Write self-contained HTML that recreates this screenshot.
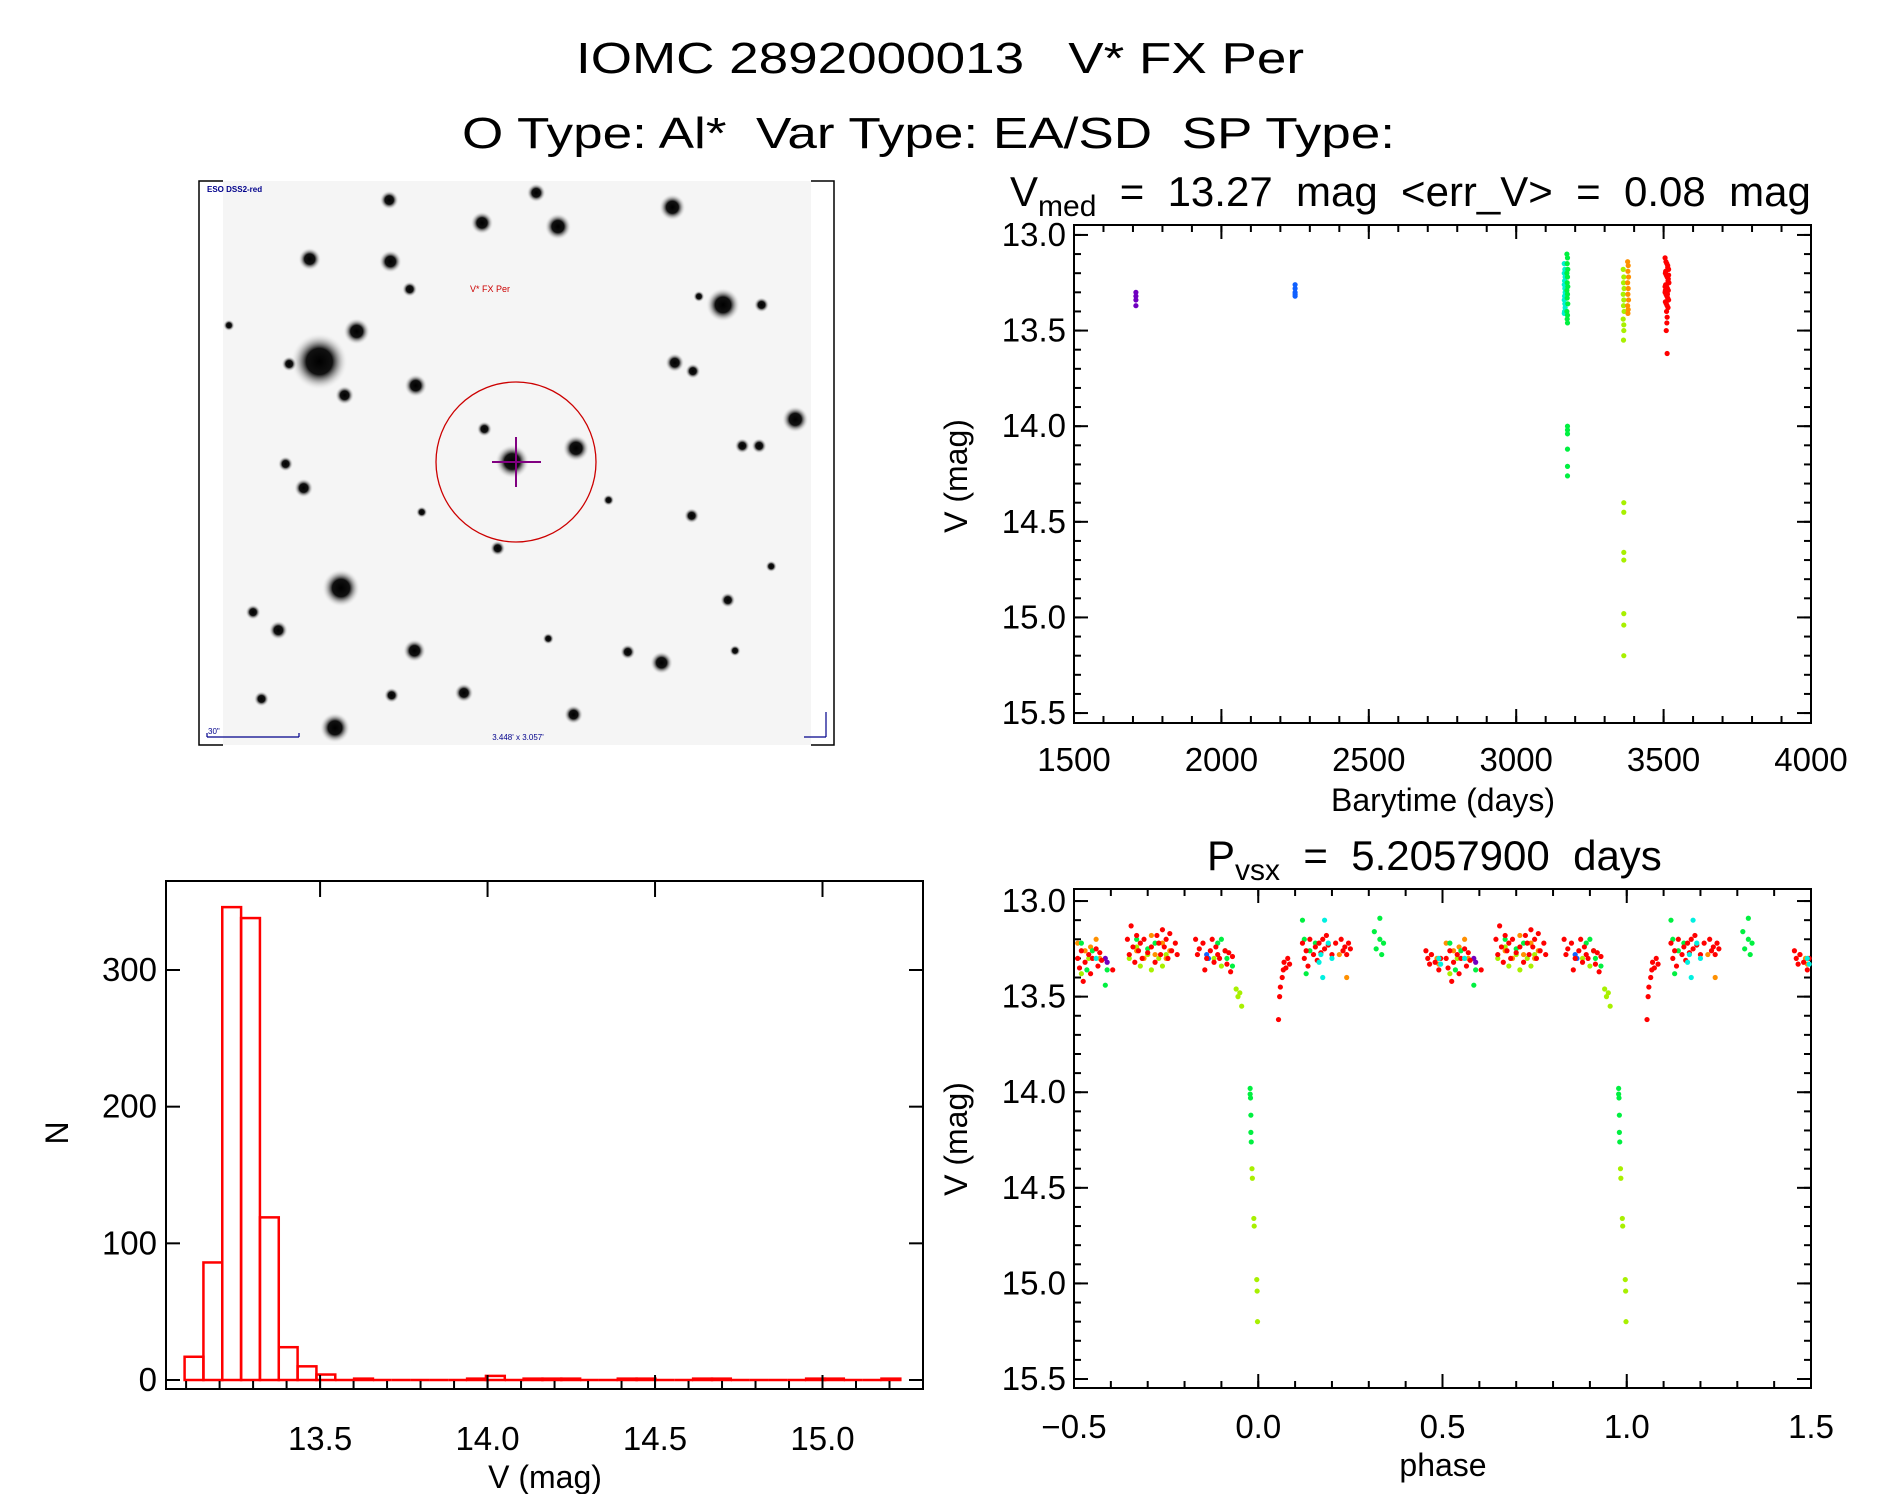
<!DOCTYPE html>
<html><head><meta charset="utf-8">
<style>
html,body{margin:0;padding:0;background:#fff;}
svg{display:block;font-family:"Liberation Sans",sans-serif;}
svg text{white-space:pre;}
</style></head>
<body>
<svg id="fig" width="1889" height="1494" viewBox="0 0 1889 1494" xmlns="http://www.w3.org/2000/svg" xml:space="preserve">
<defs>
<radialGradient id="starG"><stop offset="0" stop-color="#000"/><stop offset="0.45" stop-color="#111"/><stop offset="1" stop-color="#fff" stop-opacity="0"/></radialGradient>
</defs>
<text x="576" y="73" font-size="44" textLength="728" lengthAdjust="spacingAndGlyphs">IOMC 2892000013   V* FX Per</text>
<text x="462" y="148" font-size="44" textLength="933" lengthAdjust="spacingAndGlyphs">O Type: Al*  Var Type: EA/SD  SP Type:</text>
<text x="1010" y="206" font-size="42">V<tspan font-size="30" dy="10">med</tspan><tspan dy="-10">  =  13.27  mag  &lt;err_V&gt;  =  0.08  mag</tspan></text>
<text x="1207" y="870" font-size="42">P<tspan font-size="30" dy="10">vsx</tspan><tspan dy="-10">  =  5.2057900  days</tspan></text>
<g id="img"></g>
<g id="plots"></g>
</svg>
<script>
// ---------- histogram data ----------
const histStart = 13.0955;
const histWidth = 0.05623;
const histCounts = [17,86,346,338,119,24,10,4,0,1,0,0,0,0,0,1,3,0,1,1,1,0,0,1,1,0,0,1,1,0,0,0,0,1,1,0,0,1];
const histXTicks = [13.5,14.0,14.5,15.0];
const histYTicks = [0,100,200,300];

// ---------- time series data ----------
const tPurpleT = [1710,1710,1710,1710];
const tPurpleV = [13.30,13.32,13.34,13.37];
const tBlueT = [2250,2250,2250,2250,2250];
const tBlueV = [13.26,13.28,13.30,13.31,13.32];
const tCyanT = [3163,3165,3163,3166,3164,3163,3165,3166,3164,3163,3165,3166,3164,3163];
const tCyanV = [13.15,13.18,13.20,13.22,13.24,13.26,13.28,13.30,13.32,13.34,13.36,13.38,13.40,13.41];
const tGreenT = [3172,3174,3173,3175,3172,3174,3173,3175,3172,3174,3173,3175,3172,3174,3173,3174,3174,3174,3174,3174,3174,3174];
const tGreenV = [13.10,13.12,13.15,13.18,13.20,13.22,13.25,13.27,13.29,13.31,13.33,13.36,13.40,13.42,13.44,13.46,14.00,14.02,14.04,14.12,14.21,14.26];
const tYgT = [3363,3365,3364,3366,3363,3365,3364,3366,3363,3365,3364,3365,3365,3365,3365,3365,3365,3365,3365];
const tYgV = [13.18,13.22,13.25,13.28,13.31,13.34,13.37,13.40,13.44,13.47,13.55,13.50,14.40,14.45,14.66,14.70,14.98,15.04,15.20];
const tOrangeT = [3378,3380,3379,3381,3378,3380,3379,3381,3378,3380,3379];
const tOrangeV = [13.14,13.16,13.19,13.22,13.25,13.28,13.31,13.34,13.37,13.39,13.41];
const tRedT = [3505,3508,3511,3514,3517,3506,3509,3512,3515,3518,3507,3510,3513,3516,3505,3508,3511,3514,3517,3506,3509,3512,3515,3510,3512,3511,3509,3512,3514,3507,3516,3505,3513,3508,3517,3506];
const tRedV = [13.12,13.14,13.15,13.17,13.18,13.20,13.21,13.22,13.24,13.25,13.26,13.27,13.28,13.29,13.30,13.31,13.32,13.33,13.34,13.35,13.36,13.37,13.38,13.40,13.43,13.46,13.50,13.62,13.16,13.19,13.23,13.27,13.31,13.35,13.21,13.29];
const timeXTicks = [1500,2000,2500,3000,3500,4000];
const magTicks = [13.0,13.5,14.0,14.5,15.0,15.5];

// ---------- phased data (base phase -0.5..0.5) ----------
const phRed = [[-0.49,13.30],[-0.485,13.35],[-0.48,13.26],[-0.475,13.42],[-0.47,13.32],[-0.46,13.28],[-0.455,13.38],[-0.45,13.30],[-0.44,13.25],[-0.435,13.34],[-0.43,13.27],[-0.425,13.31],[-0.395,13.36],
[-0.355,13.20],[-0.35,13.28],[-0.345,13.13],[-0.34,13.24],[-0.335,13.32],[-0.33,13.18],[-0.325,13.26],[-0.32,13.22],[-0.315,13.30],[-0.31,13.20],[-0.30,13.27],[-0.29,13.24],[-0.28,13.32],[-0.275,13.18],[-0.27,13.22],[-0.265,13.28],[-0.26,13.15],[-0.255,13.24],[-0.25,13.20],[-0.245,13.30],[-0.24,13.17],[-0.235,13.26],[-0.225,13.22],[-0.22,13.28],
[-0.17,13.20],[-0.165,13.28],[-0.16,13.25],[-0.15,13.22],[-0.145,13.36],[-0.14,13.30],[-0.13,13.26],[-0.125,13.20],[-0.12,13.32],[-0.115,13.24],[-0.11,13.28],[-0.105,13.30],[-0.09,13.26],[-0.085,13.33],[-0.08,13.27],[-0.075,13.37],[-0.07,13.29],
[0.055,13.62],[0.058,13.50],[0.06,13.45],[0.065,13.40],[0.068,13.36],[0.07,13.32],[0.075,13.35],[0.08,13.30],[0.085,13.33],
[0.12,13.22],[0.125,13.30],[0.13,13.26],[0.135,13.34],[0.14,13.20],[0.15,13.28],[0.155,13.24],[0.16,13.31],[0.165,13.22],[0.17,13.27],[0.175,13.20],[0.18,13.25],[0.185,13.18],[0.19,13.23],[0.20,13.28],[0.21,13.22],[0.225,13.20],[0.23,13.26],[0.235,13.24],[0.24,13.28],[0.245,13.22],[0.25,13.25],
[0.455,13.26],[0.46,13.30],[0.465,13.33],[0.47,13.28],[0.48,13.32],[0.49,13.36],[0.495,13.30]];
const phOrange = [[-0.49,13.22],[-0.47,13.26],[-0.455,13.24],[-0.44,13.20],[-0.43,13.30],[-0.33,13.26],[-0.31,13.30],[-0.29,13.18],[-0.28,13.28],[-0.26,13.22],[-0.25,13.30],[-0.24,13.26],[0.24,13.40],[0.22,13.28],[0.47,13.28],[0.485,13.30],[0.49,13.33]];
const phYg = [[-0.48,13.38],[-0.46,13.30],[-0.35,13.30],[-0.33,13.24],[-0.32,13.34],[-0.30,13.28],[-0.29,13.36],[-0.27,13.30],[-0.26,13.34],[-0.25,13.28],[-0.12,13.30],[-0.10,13.34],[-0.06,13.46],[-0.055,13.50],[-0.05,13.48],[-0.045,13.55],[-0.017,14.40],[-0.016,14.45],[-0.012,14.66],[-0.011,14.70],[-0.004,14.98],[-0.003,15.04],[-0.002,15.20]];
const phGreen = [[-0.48,13.22],[-0.465,13.36],[-0.45,13.26],[-0.415,13.44],[-0.41,13.36],[-0.33,13.20],[-0.30,13.25],[-0.28,13.22],[-0.11,13.22],[-0.10,13.20],[-0.09,13.26],[-0.085,13.30],[-0.07,13.34],[-0.022,13.98],[-0.022,14.01],[-0.021,14.03],[-0.02,14.12],[-0.02,14.21],[-0.019,14.26],[0.12,13.10],[0.125,13.20],[0.13,13.38],[0.14,13.26],[0.155,13.22],[0.315,13.16],[0.32,13.25],[0.33,13.20],[0.335,13.28],[0.33,13.09],[0.34,13.22]];
const phCyan = [[-0.44,13.30],[0.165,13.32],[0.17,13.28],[0.175,13.40],[0.18,13.10],[0.19,13.22],[0.20,13.30],[0.49,13.30],[0.495,13.33]];
const phBlue = [[-0.14,13.28],[-0.135,13.30]];
const phPurple = [[-0.415,13.30],[-0.41,13.32]];
const phaseXTicks = [-0.5,0.0,0.5,1.0,1.5];

const NS = "http://www.w3.org/2000/svg";
const root = document.getElementById('plots');
function mk(tag, parent){ const e=document.createElementNS(NS,tag); parent.appendChild(e); return e; }
function line(p,x1,y1,x2,y2,w){ const e=mk('line',p); e.setAttribute('x1',x1);e.setAttribute('y1',y1);e.setAttribute('x2',x2);e.setAttribute('y2',y2);e.setAttribute('stroke','#000');e.setAttribute('stroke-width',w||2);
  
  
  return e; }
function txt(p,x,y,s,size,anchor){ const e=mk('text',p); e.setAttribute('x',x);e.setAttribute('y',y);e.setAttribute('font-size',size);e.setAttribute('text-anchor',anchor||'middle'); e.textContent=s; return e; }

function scale(d0,d1,r0,r1){ return v=> r0+(v-d0)*(r1-r0)/(d1-d0); }

function frame(g,L,T,R,B){
  const r=mk('rect',g); r.setAttribute('x',L);r.setAttribute('y',T);r.setAttribute('width',R-L);r.setAttribute('height',B-T);
  r.setAttribute('fill','none');r.setAttribute('stroke','#000');r.setAttribute('stroke-width',2);
  
  
}
function xTicksAll(g,sx,T,B,lo,hi,step,len){ for(let v=lo; v<=hi+1e-9; v+=step){ const x=sx(v); line(g,x,B,x,B-len); line(g,x,T,x,T+len);} }
function yTicksAll(g,sy,L,R,lo,hi,step,len){ for(let v=lo; v<=hi+1e-9; v+=step){ const y=sy(v); line(g,L,y,L+len,y); line(g,R,y,R-len,y);} }

function dot(g,x,y,c,name){ const e=mk('circle',g); e.setAttribute('cx',x);e.setAttribute('cy',y);e.setAttribute('r',2.6);e.setAttribute('fill',c);
  
  
}

// ===== Time plot =====
(function(){
  const g=mk('g',root);
  
  
  const L=1074,R=1811,T=225,B=723;
  const sx=scale(1500,4000,L,R), sy=scale(12.948,15.552,T,B);
  frame(g,L,T,R,B);
  xTicksAll(g,sx,T,B,1500,4000,500,14); xTicksAll(g,sx,T,B,1600,3900,100,7);
  yTicksAll(g,sy,L,R,13.0,15.5,0.5,14); yTicksAll(g,sy,L,R,13.0,15.5,0.1,7);
  timeXTicks.forEach(v=>{ const t=txt(g,sx(v),771,String(v),33);
    
     });
  magTicks.forEach(v=>{ const t=txt(g,1066,sy(v)+11,v.toFixed(1),33,'end');
    
     });
  const xl=txt(g,1443,811,'Barytime (days)',32);
  
  
  const yl=txt(g,0,0,'V (mag)',32); yl.setAttribute('transform','translate(967,476) rotate(-90)');
  
  
  const sets=[[tPurpleT,tPurpleV,'#7000c0'],[tBlueT,tBlueV,'#1060ff'],[tCyanT,tCyanV,'#00f0d0'],[tGreenT,tGreenV,'#00f040'],[tYgT,tYgV,'#a8f000'],[tOrangeT,tOrangeV,'#ff9000'],[tRedT,tRedV,'#ff0000']];
  sets.forEach(s=>s[0].forEach((t,i)=>dot(g,sx(t),sy(s[1][i]),s[2],'time-point')));
})();

// ===== Phase plot =====
(function(){
  const g=mk('g',root);
  
  
  const L=1074,R=1811,T=889,B=1388;
  const sx=scale(-0.5,1.5,L,R), sy=scale(12.937,15.547,T,B);
  frame(g,L,T,R,B);
  xTicksAll(g,sx,T,B,-0.5,1.5,0.5,14); xTicksAll(g,sx,T,B,-0.5,1.5,0.1,7);
  yTicksAll(g,sy,L,R,13.0,15.5,0.5,14); yTicksAll(g,sy,L,R,13.0,15.5,0.1,7);
  phaseXTicks.forEach(v=>{ const t=txt(g,sx(v),1438,(v<0?'\u2212':'')+Math.abs(v).toFixed(1),33);
    
     });
  magTicks.forEach(v=>{ const t=txt(g,1066,sy(v)+11,v.toFixed(1),33,'end');
    
     });
  const xl=txt(g,1443,1476,'phase',32);
  
  
  const yl=txt(g,0,0,'V (mag)',32); yl.setAttribute('transform','translate(967,1139) rotate(-90)');
  
  
  const sets=[[phPurple,'#7000c0'],[phBlue,'#1060ff'],[phYg,'#a8f000'],[phOrange,'#ff9000'],[phGreen,'#00f040'],[phRed,'#ff0000'],[phCyan,'#00f0e0']];
  sets.forEach(s=>s[0].forEach(p=>{ [0,1].forEach(k=>{ const ph=p[0]+k; if(ph>=-0.5&&ph<=1.5) dot(g,sx(ph),sy(p[1]),s[1],'phase-point'); }); }));
})();

// ===== Histogram =====
(function(){
  const g=mk('g',root);
  
  
  const L=166,R=923,T=881,B=1389;
  const sx=scale(13.04,15.30,L,R), sy=scale(0,300,1380,970);
  histCounts.forEach((c,i)=>{
    const x0=sx(histStart+i*histWidth), x1=sx(histStart+(i+1)*histWidth);
    if(c<=0) { const e=mk('line',g); e.setAttribute('x1',x0);e.setAttribute('x2',x1);e.setAttribute('y1',sy(0));e.setAttribute('y2',sy(0));e.setAttribute('stroke','#f00');e.setAttribute('stroke-width',2.5);
      
       return; }
    const r=mk('rect',g); r.setAttribute('x',x0);r.setAttribute('y',sy(c));r.setAttribute('width',x1-x0);r.setAttribute('height',sy(0)-sy(c));
    r.setAttribute('fill','none');r.setAttribute('stroke','#f00');r.setAttribute('stroke-width',2.5);
    
    
  });
  frame(g,L,T,R,B);
  histXTicks.forEach(v=>{ line(g,sx(v),B,sx(v),B-14); line(g,sx(v),T,sx(v),T+16); });
  for(let v=13.1; v<=15.25; v+=0.1){ line(g,sx(v),B,sx(v),B-8); }
  histYTicks.forEach(v=>{ line(g,L,sy(v),L+14,sy(v)); line(g,R,sy(v),R-14,sy(v)); });
  histXTicks.forEach(v=>{ const t=txt(g,sx(v),1450,v.toFixed(1),33);
    
     });
  histYTicks.forEach(v=>{ const t=txt(g,157,sy(v)+11,String(v),33,'end');
    
     });
  const xl=txt(g,545,1488,'V (mag)',32);
  
  
  const yl=txt(g,0,0,'N',32); yl.setAttribute('transform','translate(68,1133) rotate(-90)');
  
  
})();

// ===== Finder image =====
(function(){
  const g=document.getElementById('img');
  const bg=mk('rect',g); bg.setAttribute('x',223);bg.setAttribute('y',181);bg.setAttribute('width',588);bg.setAttribute('height',564);bg.setAttribute('fill','#f5f5f5');
  
  
  const fr=mk('path',g); fr.setAttribute('d','M223 181 H199 V745 H223 M811 181 H834 V745 H811'); fr.setAttribute('fill','none'); fr.setAttribute('stroke','#000'); fr.setAttribute('stroke-width',1.5);
  
  
  const stars=[[265,300,15],[283,488,10],[600,253,9],[296,275,7],[257,215,6],[324,217,6],[400,185,6],[463,188,7],[445,160,5],[558,172,7],[323,166,5],[345,320,6],[478,372,7],[425,383,9],[660,348,7],[549,550,6],[344,540,6],[385,575,5],[278,604,8],[476,593,5],[252,405,5],[231,523,5],[560,301,5],[575,308,4],[632,253,4],[413,455,4],[574,428,4],[630,370,4],[616,370,4],[340,240,4],[237,385,4],[210,508,4],[521,541,4],[325,577,4],[604,498,4],[217,580,4],[402,356,4],[286,328,5],[240,302,4],[580,246,3],[505,415,3],[350,425,3],[610,540,3],[190,270,3],[640,470,3],[455,530,3]];
  stars.forEach(s=>{ const c=mk('circle',g); c.setAttribute('cx',s[0]*1.205);c.setAttribute('cy',s[1]*1.205);c.setAttribute('r',s[2]*1.205*1.6);c.setAttribute('fill','url(#starG)');
    
     });
  const ci=mk('circle',g); ci.setAttribute('cx',516);ci.setAttribute('cy',462);ci.setAttribute('r',80);ci.setAttribute('fill','none');ci.setAttribute('stroke','#c00');ci.setAttribute('stroke-width',1.3);
  
  
  const cr=mk('path',g); cr.setAttribute('d','M492 462 H541 M516 437 V487'); cr.setAttribute('stroke','#800080'); cr.setAttribute('stroke-width',2);
  
  
  const l1=txt(g,470,292,'V* FX Per',9,'start'); l1.setAttribute('fill','#c00');
  
  
  const l2=txt(g,207,192,'ESO DSS2-red',8,'start'); l2.setAttribute('fill','#00008b'); l2.setAttribute('font-weight','bold');
  
  
  const l3=txt(g,518,740,'3.448\' x 3.057\'',8); l3.setAttribute('fill','#00008b');
  
  
  const sb=mk('path',g); sb.setAttribute('d','M207 737 H299 M207 733 V737 M299 733 V737 M804 737 H826 M826 737 V712'); sb.setAttribute('stroke','#00008b'); sb.setAttribute('stroke-width',1.2); sb.setAttribute('fill','none');
  
  
  const l4=txt(g,208,734,'30"',8,'start'); l4.setAttribute('fill','#00008b');
  
  
})();
</script>
</body></html>
